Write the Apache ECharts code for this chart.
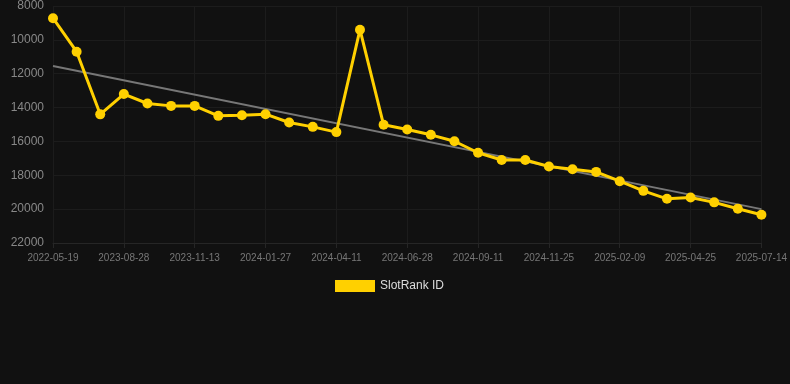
<!DOCTYPE html>
<html>
<head>
<meta charset="utf-8">
<script src="https://cdn.jsdelivr.net/npm/echarts@6/dist/echarts.min.js"></script>
<style>
  html, body { margin: 0; padding: 0; background: #111111; }
  #main { width: 790px; height: 384px; }
</style>
</head>
<body>
<div id="main"></div>
<script>
// 日期（每三个显示一个标签）
const dates = [
    '2022-05-19', '2023-07-07', '2023-08-02', '2023-08-28', '2023-09-22', '2023-10-18',
    '2023-11-13', '2023-12-08', '2024-01-02', '2024-01-27', '2024-02-21', '2024-03-17',
    '2024-04-11', '2024-05-07', '2024-06-02', '2024-06-28', '2024-07-22', '2024-08-16',
    '2024-09-11', '2024-10-06', '2024-10-31', '2024-11-25', '2024-12-20', '2025-01-15',
    '2025-02-09', '2025-03-06', '2025-03-31', '2025-04-25', '2025-05-20', '2025-06-19',
    '2025-07-14'
];

// SlotRank ID 数值
const rankValues = [
    8720, 10700, 14400, 13200, 13760, 13900, 13900, 14490, 14450, 14390,
    14880, 15140, 15450, 9400, 15020, 15300, 15610, 15990, 16670, 17100,
    17100, 17480, 17640, 17800, 18350, 18920, 19390, 19310, 19600, 19980,
    20330
];

// 趋势线两端
const trendEnds = [11540, 20000];

// y 轴刻度
const yTicks = { min: 8000, max: 22000, interval: 2000 };

const chart = echarts.init(document.getElementById('main'));

const option = {
    backgroundColor: '#111111',
    animation: false,
    grid: {
        left: 53,
        right: 28,
        top: 6,
        bottom: 141
    },
    legend: {
        data: [{ name: 'SlotRank ID', icon: 'rect' }],
        top: 275,
        left: 330,
        itemWidth: 40,
        itemHeight: 12,
        itemGap: 6,
        textStyle: { color: '#dddddd', fontSize: 12, fontFamily: 'Liberation Sans, Arial, sans-serif' }
    },
    xAxis: {
        type: 'category',
        boundaryGap: false,
        data: dates,
        axisLine: { lineStyle: { color: '#262626' } },
        axisTick: { show: true, interval: 2, lineStyle: { color: '#262626' } },
        axisLabel: {
            interval: 2,
            color: '#777777',
            fontSize: 10,
            margin: 10,
            fontFamily: 'Liberation Sans, Arial, sans-serif'
        },
        splitLine: { show: true, interval: 2, lineStyle: { color: '#1c1c1c' } }
    },
    yAxis: {
        type: 'value',
        inverse: true,
        min: yTicks.min,
        max: yTicks.max,
        interval: yTicks.interval,
        axisLine: { show: false },
        axisTick: { show: false },
        axisLabel: {
            color: '#888888',
            fontSize: 12,
            margin: 9,
            formatter: (v) => String(v),
            fontFamily: 'Liberation Sans, Arial, sans-serif'
        },
        splitLine: { lineStyle: { color: '#1c1c1c' } }
    },
    series: [
        {
            name: 'trend',
            type: 'line',
            data: [[dates[0], trendEnds[0]], [dates[dates.length - 1], trendEnds[1]]],
            symbol: 'none',
            lineStyle: { color: '#777777', width: 2 },
            z: 2,
            silent: true
        },
        {
            name: 'SlotRank ID',
            type: 'line',
            data: rankValues,
            symbol: 'circle',
            symbolSize: 10,
            itemStyle: { color: '#FFD000' },
            lineStyle: { color: '#FFD000', width: 3 },
            z: 3
        }
    ]
};

chart.setOption(option);
</script>
</body>
</html>
